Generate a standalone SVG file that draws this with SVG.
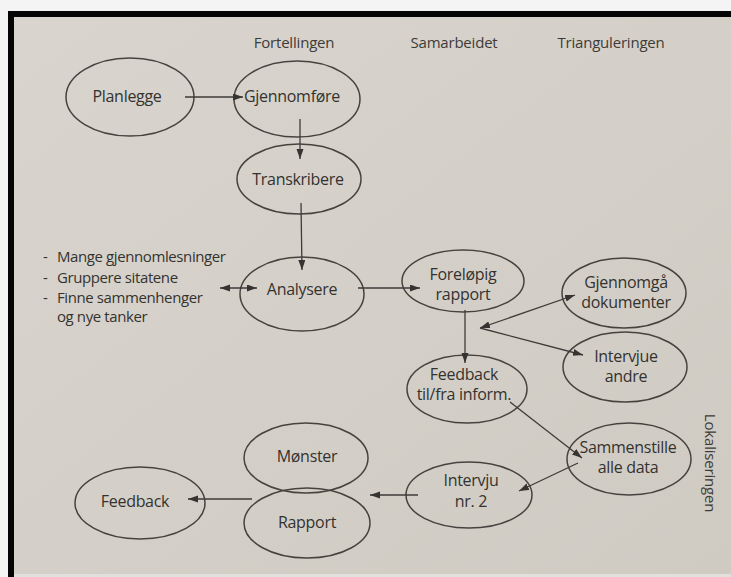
<svg xmlns="http://www.w3.org/2000/svg" width="731" height="577" viewBox="0 0 731 577">
<defs>
<linearGradient id="page" x1="0" y1="0" x2="1" y2="1">
<stop offset="0" stop-color="#d9d5ce"/>
<stop offset="1" stop-color="#cfcbc3"/>
</linearGradient>
<marker id="ah" markerUnits="userSpaceOnUse" markerWidth="11" markerHeight="8" refX="10" refY="3.5" orient="auto-start-reverse">
<path d="M0,0 L10,3.5 L0,7 z" fill="#363431"/>
</marker>
<style>
.n ellipse{fill:none;stroke:#46433f;stroke-width:1.5}
.t{font-family:"Open Sans","Noto Sans","Liberation Sans",sans-serif;font-size:16px;letter-spacing:-0.3px;fill:#34322f;text-anchor:middle}
.h{font-family:"Open Sans","Noto Sans","Liberation Sans",sans-serif;font-size:15px;letter-spacing:-0.2px;fill:#3d3b38;text-anchor:middle}
.l{font-family:"Open Sans","Noto Sans","Liberation Sans",sans-serif;font-size:15px;letter-spacing:-0.4px;fill:#34322f}
.c path{fill:none;stroke:#3e3b38;stroke-width:1.3}
</style>
</defs>
<rect x="0" y="0" width="731" height="577" fill="#f4f4f4"/>
<rect x="14" y="17" width="717" height="557" fill="url(#page)"/>
<rect x="14" y="574" width="717" height="3" fill="#e2e0dc"/>
<rect x="8" y="11" width="723" height="6" fill="#050505"/>
<rect x="8" y="11" width="6" height="566" fill="#050505"/>

<g id="headers">
<text class="h" x="294" y="48">Fortellingen</text>
<text class="h" x="454" y="48">Samarbeidet</text>
<text class="h" x="611" y="48">Trianguleringen</text>
<text class="h" transform="translate(710,463) rotate(90)" x="0" y="5">Lokaliseringen</text>
</g>

<g id="list">
<text class="l" y="262"><tspan x="43">-</tspan><tspan x="57">Mange gjennomlesninger</tspan></text>
<text class="l" y="283"><tspan x="43">-</tspan><tspan x="57">Gruppere sitatene</tspan></text>
<text class="l" y="303"><tspan x="43">-</tspan><tspan x="57">Finne sammenhenger</tspan></text>
<text class="l" y="322"><tspan x="57">og nye tanker</tspan></text>
</g>

<g id="planlegge" class="n"><ellipse cx="130" cy="97" rx="64" ry="39"/><text class="t" x="127" y="102">Planlegge</text></g>
<g id="gjennomfore" class="n"><ellipse cx="297" cy="99" rx="63" ry="38"/><text class="t" x="292" y="102">Gjennomføre</text></g>
<g id="transkribere" class="n"><ellipse cx="299" cy="179" rx="62" ry="35"/><text class="t" x="298" y="185">Transkribere</text></g>
<g id="analysere" class="n"><ellipse cx="302" cy="294" rx="62" ry="37"/><text class="t" x="302" y="295">Analysere</text></g>
<g id="forelopig" class="n"><ellipse cx="463" cy="281" rx="61" ry="31"/><text class="t" x="463" y="280">Foreløpig</text><text class="t" x="463" y="300">rapport</text></g>
<g id="gjennomga" class="n"><ellipse cx="624" cy="293" rx="62" ry="35"/><text class="t" x="626" y="288">Gjennomgå</text><text class="t" x="626" y="308">dokumenter</text></g>
<g id="intervjue" class="n"><ellipse cx="625" cy="367" rx="62" ry="35"/><text class="t" x="626" y="362">Intervjue</text><text class="t" x="626" y="382">andre</text></g>
<g id="feedback-inform" class="n"><ellipse cx="467" cy="389" rx="60" ry="34"/><text class="t" x="464" y="380">Feedback</text><text class="t" x="464" y="400">til/fra inform.</text></g>
<g id="sammenstille" class="n"><ellipse cx="629" cy="459" rx="62" ry="36"/><text class="t" x="628" y="453">Sammenstille</text><text class="t" x="628" y="473">alle data</text></g>
<g id="intervju2" class="n"><ellipse cx="469" cy="495" rx="63" ry="33"/><text class="t" x="471" y="486">Intervju</text><text class="t" x="471" y="507">nr. 2</text></g>
<g id="monster" class="n"><ellipse cx="306" cy="458" rx="62" ry="35"/><text class="t" x="307" y="462">Mønster</text></g>
<g id="rapport" class="n"><ellipse cx="307" cy="523" rx="63" ry="35"/><text class="t" x="307" y="528">Rapport</text></g>
<g id="feedback" class="n"><ellipse cx="140" cy="503" rx="65" ry="36"/><text class="t" x="135" y="507">Feedback</text></g>

<g id="connectors" class="c">
<path d="M185,97 L243,97" marker-end="url(#ah)"/>
<path d="M300,119 L300,159" marker-end="url(#ah)"/>
<path d="M301,203 L302,270" marker-end="url(#ah)"/>
<path d="M220,288 L257,288" marker-start="url(#ah)" marker-end="url(#ah)"/>
<path d="M358,288 L420,288" marker-end="url(#ah)"/>
<path d="M465,310 L465,363" marker-end="url(#ah)"/>
<path d="M480,328 L575,295" marker-start="url(#ah)" marker-end="url(#ah)"/>
<path d="M480,328 L583,355" marker-end="url(#ah)"/>
<path d="M510,402 L582,458" marker-end="url(#ah)"/>
<path d="M578,463 L519,491" marker-end="url(#ah)"/>
<path d="M418,495 L370,495" marker-end="url(#ah)"/>
<path d="M252,499 L188,499" marker-end="url(#ah)"/>
</g>
</svg>
